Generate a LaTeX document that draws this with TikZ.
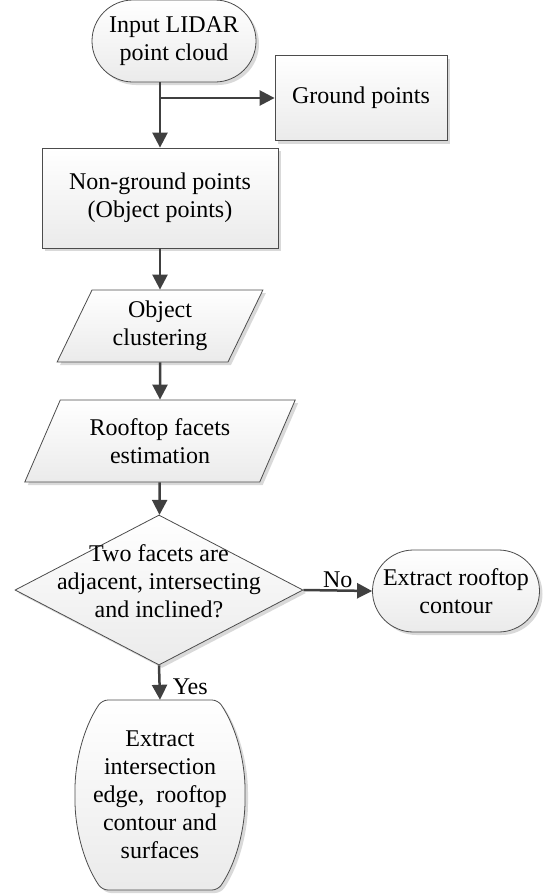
\documentclass[tikz,border=0pt]{standalone}
\usepackage{fontspec}
\setmainfont{Liberation Serif}
\usetikzlibrary{arrows.meta,shapes.geometric,shapes.misc,shadows}

\begin{document}
\begin{tikzpicture}[x=1pt,y=-1pt,
boxlook/.style={draw=black!70, line width=0.8pt, top color=white, bottom color=black!8,
  drop shadow={shadow xshift=3pt, shadow yshift=-3pt, fill=black!15, opacity=1}},
box/.style={boxlook, align=center, inner sep=0pt, font=\fontsize{24}{28}\selectfont},
startstop/.style={box, rounded rectangle},
process/.style={box, rectangle},
io/.style={box, trapezium, trapezium stretches=true},
decision/.style={box, diamond},
arr/.style={draw=black!75, line width=2.5pt, -{Triangle[length=15pt,width=15pt]}},
lbl/.style={font=\fontsize{24}{28}\selectfont, inner sep=2pt}
]
    \useasboundingbox (0,0) rectangle (542,895);

    \node [startstop, minimum width=164pt, minimum height=82pt] (start) at (174,41) {Input LIDAR\\point cloud};
    \node [process, minimum width=172pt, minimum height=85pt] (ground) at (361,98) {Ground points};
    \node [process, minimum width=236pt, minimum height=100pt] (nonground) at (160,198) {Non-ground points\\(Object points)};

    \node [io, trapezium left angle=64, trapezium right angle=116,
           minimum width=206pt, minimum height=72pt] (cluster) at (160,326) {Object\\clustering};
    \node [io, trapezium left angle=61, trapezium right angle=119,
           minimum width=271pt, minimum height=82pt] (roof) at (160,441) {Rooftop facets\\estimation};

    \node [decision, minimum width=288pt, minimum height=150pt] (dec) at (159,590)
        {\smash{\makebox[0pt]{\begin{tabular}{@{}c@{}}Two facets are\\adjacent, intersecting\\and inclined?\end{tabular}}}};

    \node [startstop, minimum width=167pt, minimum height=82pt] (contour) at (456,591) {Extract rooftop\\contour};

    % end shape with bulging sides
    \draw [boxlook, rounded corners=6pt] (160,700) -- (218,700)
        .. controls (238,730) and (245,765) .. (245,795)
        .. controls (245,825) and (238,860) .. (218,890) -- (102,890)
        .. controls (82,860) and (75,825) .. (75,795)
        .. controls (75,765) and (82,730) .. (102,700) -- cycle;
    \node [align=center, inner sep=0pt, font=\fontsize{24}{28}\selectfont,
           minimum width=170pt, minimum height=190pt] (final) at (160,795)
        {Extract\\intersection\\edge,~ rooftop\\contour and\\surfaces};

    \draw [arr] (start.south -| nonground.north) -- (nonground.north);
    \draw [arr] (ground.west -| nonground.north) -- (ground.west);
    \draw [arr] (nonground) -- (cluster);
    \draw [arr] (cluster) -- (roof);
    \draw [arr] (roof) -- (dec);
    \draw [arr] (dec.east) -- node [lbl, above] {No} (contour.west);
    \draw [arr] (dec.south) -- node [lbl, right=10pt, yshift=-4pt] {Yes} (final.north);

\end{tikzpicture}
\end{document}
